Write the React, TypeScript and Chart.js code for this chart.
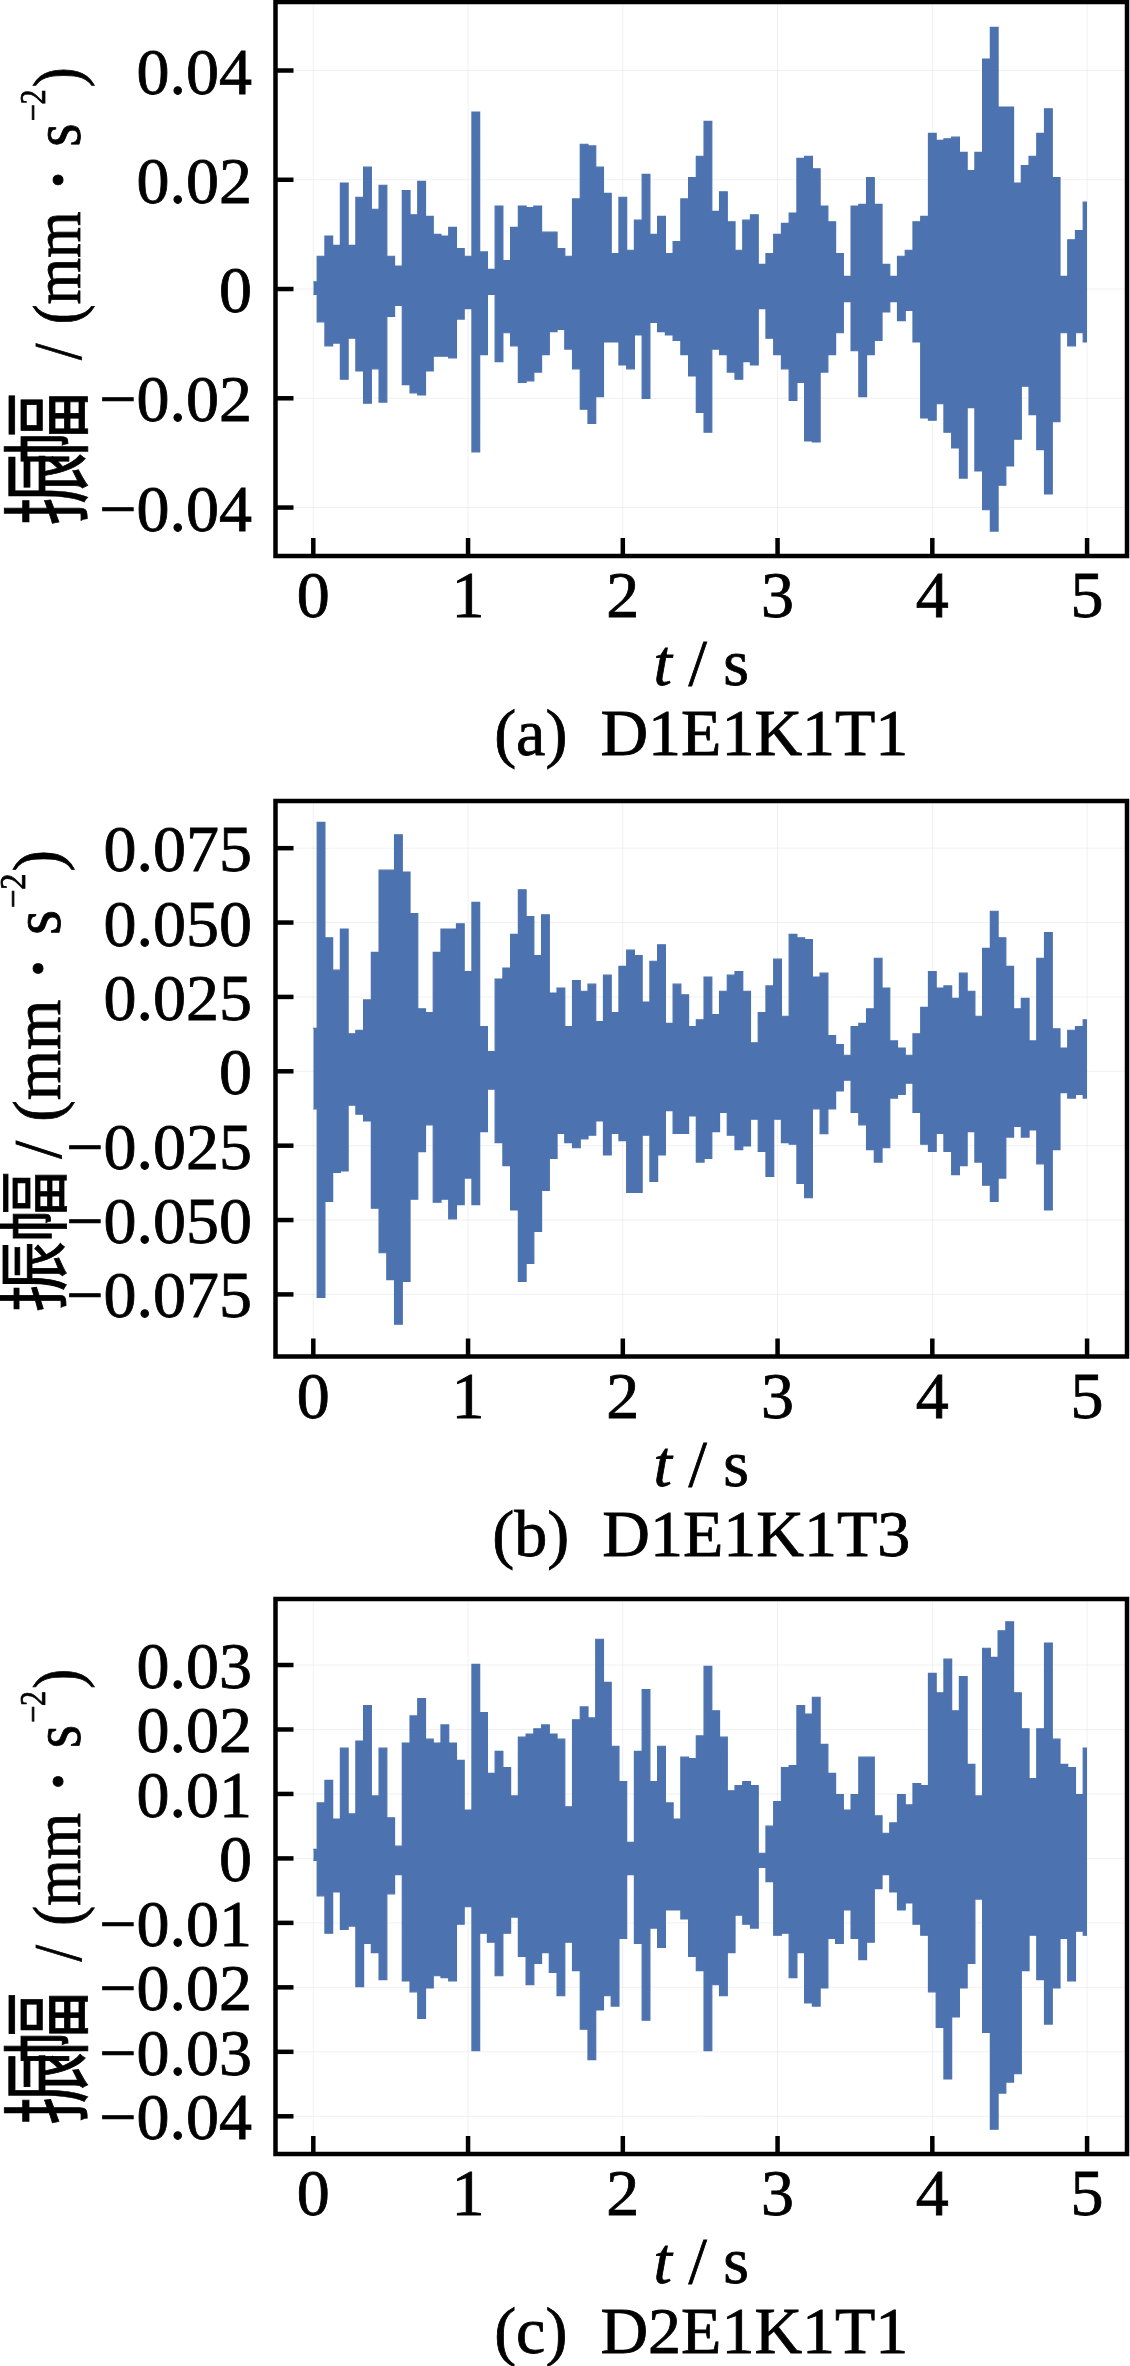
import React, { useEffect, useRef } from "react";
import { Chart, registerables } from "chart.js";

Chart.register(...registerables);

// ---------- data ----------
const timeBins = [
  0.0, 0.05, 0.1, 0.15, 0.2, 0.25, 0.3, 0.35, 0.4, 0.45,
  0.5, 0.55, 0.6, 0.65, 0.7, 0.75, 0.8, 0.85, 0.9, 0.95,
  1.0, 1.05, 1.1, 1.15, 1.2, 1.25, 1.3, 1.35, 1.4, 1.45,
  1.5, 1.55, 1.6, 1.65, 1.7, 1.75, 1.8, 1.85, 1.9, 1.95,
  2.0, 2.05, 2.1, 2.15, 2.2, 2.25, 2.3, 2.35, 2.4, 2.45,
  2.5, 2.55, 2.6, 2.65, 2.7, 2.75, 2.8, 2.85, 2.9, 2.95,
  3.0, 3.05, 3.1, 3.15, 3.2, 3.25, 3.3, 3.35, 3.4, 3.45,
  3.5, 3.55, 3.6, 3.65, 3.7, 3.75, 3.8, 3.85, 3.9, 3.95,
  4.0, 4.05, 4.1, 4.15, 4.2, 4.25, 4.3, 4.35, 4.4, 4.45,
  4.5, 4.55, 4.6, 4.65, 4.7, 4.75, 4.8, 4.85, 4.9, 4.95, 5.0,
];

const peakHighA = [
  0.0013, 0.006, 0.0097, 0.008, 0.0194, 0.008, 0.0168, 0.0223, 0.0146, 0.019,
  0.006, 0.0042, 0.018, 0.0136, 0.0197, 0.0133, 0.01, 0.0097, 0.0113, 0.0074,
  0.006, 0.0324, 0.0068, 0.0036, 0.0152, 0.0052, 0.0113, 0.0152, 0.0149, 0.0152,
  0.0104, 0.0104, 0.0074, 0.006, 0.0165, 0.0265, 0.0262, 0.0223, 0.0175, 0.0065,
  0.0168, 0.0071, 0.0126, 0.021, 0.01, 0.0133, 0.0065, 0.0087, 0.0165, 0.0204,
  0.0243, 0.0307, 0.0142, 0.0178, 0.0123, 0.0071, 0.0126, 0.0136, 0.0045, 0.0065,
  0.01, 0.012, 0.0139, 0.0239, 0.0243, 0.022, 0.0152, 0.0123, 0.0065, 0.0023,
  0.0152, 0.0155, 0.0204, 0.0155, 0.0045, 0.0023, 0.006, 0.0071, 0.0123, 0.0133,
  0.0285, 0.0272, 0.0275, 0.0278, 0.025, 0.0217, 0.025, 0.0421, 0.0479, 0.0333,
  0.0333, 0.0194, 0.0226, 0.0243, 0.0285, 0.033, 0.0204, 0.0023, 0.009, 0.0107, 0.0159,
];
const peakLowA = [
  -0.001, -0.006, -0.0104, -0.0099, -0.0165, -0.009, -0.015, -0.0209, -0.0146, -0.0207,
  -0.005, -0.003, -0.0175, -0.019, -0.0194, -0.015, -0.0123, -0.0123, -0.0126, -0.0055,
  -0.0036, -0.0298, -0.012, -0.001, -0.0133, -0.008, -0.0104, -0.0171, -0.0168, -0.0152,
  -0.012, -0.0078, -0.0074, -0.011, -0.0146, -0.022, -0.0246, -0.0197, -0.0097, -0.0097,
  -0.0139, -0.0146, -0.0084, -0.02, -0.0061, -0.0078, -0.0084, -0.0094, -0.012, -0.0159,
  -0.0226, -0.0262, -0.011, -0.012, -0.0152, -0.0165, -0.0133, -0.0139, -0.0036, -0.009,
  -0.012, -0.0146, -0.0204, -0.0171, -0.0278, -0.028, -0.0152, -0.012, -0.008, -0.0023,
  -0.0113, -0.0197, -0.012, -0.0094, -0.0042, -0.0023, -0.0058, -0.0039, -0.0097, -0.0236,
  -0.024, -0.021, -0.0262, -0.0291, -0.0346, -0.0217, -0.0333, -0.0404, -0.0443, -0.0359,
  -0.0324, -0.0275, -0.0178, -0.023, -0.0294, -0.0375, -0.0243, -0.008, -0.0104, -0.008, -0.0097,
];

const peakHighB = [
  0.0144, 0.0837, 0.0449, 0.034, 0.0478, 0.0126, 0.0138, 0.024, 0.04, 0.0676,
  0.0676, 0.0795, 0.067, 0.053, 0.021, 0.0197, 0.04, 0.0478, 0.0478, 0.0496,
  0.0335, 0.0568, 0.015, 0.0066, 0.031, 0.0347, 0.046, 0.061, 0.052, 0.0389,
  0.0526, 0.0263, 0.028, 0.015, 0.0305, 0.0269, 0.0293, 0.0167, 0.0323, 0.0197,
  0.0353, 0.0407, 0.0389, 0.0233, 0.037, 0.0425, 0.0161, 0.0293, 0.0257, 0.015,
  0.0173, 0.0317, 0.0191, 0.0269, 0.0323, 0.0335, 0.0269, 0.0096, 0.0197, 0.0287,
  0.0377, 0.0185, 0.046, 0.0449, 0.0443, 0.0317, 0.033, 0.012, 0.009, 0.0054,
  0.015, 0.0161, 0.021, 0.038, 0.028, 0.0102, 0.0078, 0.0054, 0.0126, 0.0215,
  0.0335, 0.028, 0.0287, 0.0245, 0.033, 0.0269, 0.0185, 0.0413, 0.0538, 0.0449,
  0.0353, 0.021, 0.0245, 0.0102, 0.038, 0.0466, 0.0143, 0.0078, 0.0138, 0.015, 0.0173,
];
const peakLowB = [
  -0.0126, -0.076, -0.0437, -0.034, -0.0335, -0.0114, -0.0144, -0.0167, -0.046, -0.061,
  -0.07, -0.085, -0.0706, -0.043, -0.027, -0.018, -0.044, -0.043, -0.0496, -0.0448,
  -0.0359, -0.0448, -0.0203, -0.006, -0.024, -0.0317, -0.0466, -0.0706, -0.0646, -0.0538,
  -0.04, -0.0293, -0.0209, -0.024, -0.0257, -0.0227, -0.0215, -0.0167, -0.0281, -0.0209,
  -0.0233, -0.0407, -0.0407, -0.0215, -0.037, -0.0281, -0.0132, -0.0209, -0.0209, -0.015,
  -0.0305, -0.0293, -0.0203, -0.0138, -0.0215, -0.0263, -0.0251, -0.0161, -0.0269, -0.0353,
  -0.0161, -0.024, -0.0245, -0.0377, -0.0425, -0.0126, -0.021, -0.0126, -0.0066, -0.003,
  -0.0138, -0.018, -0.0263, -0.0305, -0.0257, -0.009, -0.0078, -0.004, -0.0138, -0.0245,
  -0.0269, -0.0209, -0.0269, -0.0347, -0.0317, -0.0203, -0.0305, -0.0383, -0.0437, -0.0359,
  -0.0221, -0.0185, -0.0221, -0.0197, -0.0311, -0.0466, -0.0263, -0.0072, -0.009, -0.0078, -0.009,
];

const peakHighC = [
  0.0014, 0.0086, 0.0121, 0.0061, 0.0171, 0.0069, 0.0182, 0.0237, 0.0097, 0.0171,
  0.0063, 0.0019, 0.0179, 0.0221, 0.0248, 0.0185, 0.0179, 0.0207, 0.0179, 0.0152,
  0.0075, 0.0301, 0.0226, 0.0132, 0.0166, 0.0141, 0.0097, 0.0188, 0.0193, 0.0201,
  0.0207, 0.0193, 0.0185, 0.008, 0.0215, 0.0235, 0.0218, 0.034, 0.0273, 0.0174,
  0.0119, 0.0025, 0.0166, 0.0262, 0.0119, 0.0174, 0.0086, 0.0061, 0.0157, 0.0155,
  0.019, 0.0298, 0.0229, 0.0188, 0.0105, 0.0113, 0.0119, 0.0113, 0.0008, 0.005,
  0.0088, 0.0141, 0.0144, 0.0237, 0.0224, 0.025, 0.0177, 0.0132, 0.0099, 0.0075,
  0.0099, 0.0157, 0.0157, 0.0066, 0.0039, 0.0055, 0.0099, 0.0083, 0.0116, 0.0113,
  0.0287, 0.0257, 0.0309, 0.0229, 0.0282, 0.0146, 0.0097, 0.0326, 0.0312, 0.0353,
  0.0367, 0.0257, 0.0201, 0.0124, 0.0201, 0.0334, 0.0185, 0.0146, 0.0141, 0.0099, 0.0171,
];
const peakLowC = [
  -0.0003, -0.0058, -0.0116, -0.0052, -0.011, -0.0105, -0.0199, -0.0132, -0.0146, -0.0188,
  -0.0055, -0.0025, -0.019, -0.0207, -0.0248, -0.0201, -0.0182, -0.0185, -0.019, -0.0102,
  -0.0075, -0.0298, -0.0116, -0.013, -0.0182, -0.0116, -0.0091, -0.0152, -0.0196, -0.0163,
  -0.0146, -0.0177, -0.0213, -0.013, -0.0174, -0.0265, -0.0312, -0.0235, -0.0213, -0.0229,
  -0.0124, -0.0025, -0.0132, -0.0251, -0.0108, -0.0138, -0.008, -0.008, -0.0094, -0.0152,
  -0.0174, -0.0298, -0.0196, -0.0213, -0.0146, -0.0088, -0.0102, -0.0108, -0.0014, -0.0036,
  -0.0119, -0.0116, -0.0185, -0.0146, -0.0224, -0.0229, -0.0201, -0.0124, -0.0132, -0.008,
  -0.0124, -0.0157, -0.013, -0.0047, -0.0025, -0.0052, -0.008, -0.0069, -0.0102, -0.0119,
  -0.0207, -0.0262, -0.0342, -0.0246, -0.0201, -0.0163, -0.0063, -0.027, -0.042, -0.0364,
  -0.0347, -0.0334, -0.0174, -0.0119, -0.0188, -0.0257, -0.0201, -0.0124, -0.019, -0.0113, -0.0119,
];

const xTicks = [0, 1, 2, 3, 4, 5];
const xTickLabels = ["0", "1", "2", "3", "4", "5"];

const yTicksA = [0.04, 0.02, 0, -0.02, -0.04];
const yTickLabelsA = ["0.04", "0.02", "0", "\u22120.02", "\u22120.04"];
const yTicksB = [0.075, 0.05, 0.025, 0, -0.025, -0.05, -0.075];
const yTickLabelsB = ["0.075", "0.050", "0.025", "0", "\u22120.025", "\u22120.050", "\u22120.075"];
const yTicksC = [0.03, 0.02, 0.01, 0, -0.01, -0.02, -0.03, -0.04];
const yTickLabelsC = ["0.03", "0.02", "0.01", "0", "\u22120.01", "\u22120.02", "\u22120.03", "\u22120.04"];

const captions = ["(a)  D1E1K1T1", "(b)  D1E1K1T3", "(c)  D2E1K1T1"];
const xTitleItalic = "t";
const xTitleRest = " / s";
const yTitleCJK = ["振", "幅"];

// ---------- drawing ----------
const SERIF = '"Liberation Serif", "Times New Roman", serif';
const CJK = '"Noto Sans CJK SC", "Noto Sans CJK JP", sans-serif';
const LINE_BLUE = "#4c72b0";

type TitleLayout = {
  baseX: number;
  cjkSize: number;
  cjkSx: number;
  cjkCenters: number[];
  latinStart: number;
  latinSx: number;
};

type PanelProps = {
  height: number;
  frameTop: number;
  frameBottom: number;
  yMin: number;
  yMax: number;
  high: number[];
  low: number[];
  yTicks: number[];
  yTickLabels: string[];
  caption: string;
  title: TitleLayout;
};

function fillBold(ctx: CanvasRenderingContext2D, text: string, x: number, y: number) {
  ctx.fillText(text, x, y);
  ctx.strokeText(text, x, y);
}

function drawYTitle(ctx: CanvasRenderingContext2D, centerY: number, L: TitleLayout) {
  ctx.save();
  ctx.translate(L.baseX, centerY);
  ctx.rotate(-Math.PI / 2);
  ctx.fillStyle = "#000";
  ctx.strokeStyle = "#000";
  ctx.lineWidth = 0.8;
  ctx.textBaseline = "alphabetic";
  ctx.textAlign = "center";
  yTitleCJK.forEach((ch, i) => {
    ctx.save();
    ctx.translate(-L.cjkCenters[i], 0);
    ctx.scale(L.cjkSx, 1);
    ctx.font = `${L.cjkSize}px ${CJK}`;
    fillBold(ctx, ch, 0, 0);
    ctx.restore();
  });
  ctx.textAlign = "left";
  const pieces = [
    { text: "/", font: `68px ${SERIF}`, sx: L.latinSx, gap: 0, lift: 0 },
    { text: "(mm", font: `68px ${SERIF}`, sx: L.latinSx, gap: 19, lift: 0 },
    { text: "\u2022", font: `42px ${SERIF}`, sx: 1, gap: 24, lift: 8 },
    { text: "s", font: `68px ${SERIF}`, sx: L.latinSx, gap: 26, lift: 0 },
    { text: "\u22122", font: `36px ${SERIF}`, sx: L.latinSx * 0.95, gap: 2, lift: 35 },
    { text: ")", font: `68px ${SERIF}`, sx: L.latinSx, gap: 2, lift: 0 },
  ];
  let pos = -L.latinStart;
  pieces.forEach((p) => {
    pos += p.gap;
    ctx.font = p.font;
    const w = ctx.measureText(p.text).width * p.sx;
    ctx.save();
    ctx.translate(pos, -p.lift);
    ctx.scale(p.sx, 1);
    fillBold(ctx, p.text, 0, 0);
    ctx.restore();
    pos += w;
  });
  ctx.restore();
}

function makeDecorPlugin(p: PanelProps) {
  return {
    id: "panelDecor",
    beforeDatasetsDraw(chart: any) {
      const { ctx, chartArea: a, scales } = chart;
      ctx.save();
      ctx.strokeStyle = "rgba(0,0,0,0.06)";
      ctx.lineWidth = 1;
      xTicks.forEach((v) => {
        const x = scales.x.getPixelForValue(v);
        ctx.beginPath();
        ctx.moveTo(x, a.top);
        ctx.lineTo(x, a.bottom);
        ctx.stroke();
      });
      p.yTicks.forEach((v) => {
        const y = scales.y.getPixelForValue(v);
        ctx.beginPath();
        ctx.moveTo(a.left, y);
        ctx.lineTo(a.right, y);
        ctx.stroke();
      });
      ctx.restore();
    },
    afterDatasetsDraw(chart: any) {
      const { ctx, chartArea: a, scales } = chart;
      ctx.save();
      ctx.strokeStyle = "#000";
      ctx.lineWidth = 4.5;
      ctx.strokeRect(a.left, a.top, a.right - a.left, a.bottom - a.top);
      xTicks.forEach((v) => {
        const x = scales.x.getPixelForValue(v);
        ctx.beginPath();
        ctx.moveTo(x, a.bottom);
        ctx.lineTo(x, a.bottom - 18);
        ctx.stroke();
      });
      p.yTicks.forEach((v) => {
        const y = scales.y.getPixelForValue(v);
        ctx.beginPath();
        ctx.moveTo(a.left, y);
        ctx.lineTo(a.left + 18, y);
        ctx.stroke();
      });
      ctx.restore();
    },
    afterDraw(chart: any) {
      const { ctx, chartArea: a, scales } = chart;
      ctx.save();
      ctx.fillStyle = "#000";
      ctx.strokeStyle = "#000";
      ctx.lineWidth = 0.8;
      ctx.textBaseline = "alphabetic";
      ctx.font = `66px ${SERIF}`;
      ctx.textAlign = "right";
      p.yTicks.forEach((v, i) => {
        const y = scales.y.getPixelForValue(v);
        fillBold(ctx, p.yTickLabels[i], 252, y + 23);
      });
      ctx.textAlign = "center";
      xTicks.forEach((v, i) => {
        const x = scales.x.getPixelForValue(v);
        fillBold(ctx, xTickLabels[i], x, a.bottom + 61);
      });
      const cx = (a.left + a.right) / 2;
      ctx.textAlign = "left";
      ctx.font = `italic 66px ${SERIF}`;
      const wT = ctx.measureText(xTitleItalic).width;
      ctx.font = `66px ${SERIF}`;
      const wR = ctx.measureText(xTitleRest).width;
      const sx = cx - (wT + wR) / 2;
      ctx.font = `italic 66px ${SERIF}`;
      fillBold(ctx, xTitleItalic, sx, a.bottom + 129);
      ctx.font = `66px ${SERIF}`;
      fillBold(ctx, xTitleRest, sx + wT, a.bottom + 129);
      ctx.textAlign = "center";
      fillBold(ctx, p.caption, cx, a.bottom + 199);
      ctx.restore();
      drawYTitle(ctx, (a.top + a.bottom) / 2, p.title);
    },
  };
}

function Panel(p: PanelProps) {
  const ref = useRef<HTMLCanvasElement | null>(null);
  useEffect(() => {
    const canvas = ref.current;
    if (!canvas) return;
    const upper = timeBins.map((t, i) => ({ x: t, y: p.high[i] }));
    const lower = timeBins.map((t, i) => ({ x: t, y: p.low[i] }));
    const chart = new Chart(canvas, {
      type: "line",
      data: {
        datasets: [
          {
            data: upper,
            borderColor: LINE_BLUE,
            backgroundColor: LINE_BLUE,
            borderWidth: 1.2,
            pointRadius: 0,
            stepped: "middle",
            fill: "+1",
          },
          {
            data: lower,
            borderColor: LINE_BLUE,
            backgroundColor: LINE_BLUE,
            borderWidth: 1.2,
            pointRadius: 0,
            stepped: "middle",
            fill: false,
          },
        ],
      },
      options: {
        animation: false,
        responsive: false,
        maintainAspectRatio: false,
        events: [],
        layout: {
          padding: {
            left: 275.5,
            right: 3,
            top: p.frameTop,
            bottom: p.height - p.frameBottom,
          },
        },
        plugins: {
          legend: { display: false },
          tooltip: { enabled: false },
          title: { display: false },
        },
        scales: {
          x: { type: "linear", display: false, min: -0.2443, max: 5.258 },
          y: { type: "linear", display: false, min: p.yMin, max: p.yMax },
        },
      },
      plugins: [makeDecorPlugin(p)],
    } as any);
    return () => chart.destroy();
  }, []);
  return (
    <canvas
      ref={ref}
      width={1130}
      height={p.height}
      style={{ display: "block", width: 1130, height: p.height }}
    />
  );
}

export default function App() {
  useEffect(() => {
    document.body.style.margin = "0";
    document.body.style.background = "#fff";
  }, []);
  return (
    <div style={{ width: 1130, height: 2366, background: "#fff", overflow: "hidden" }}>
      <Panel
        height={790}
        frameTop={2}
        frameBottom={556}
        yMin={-0.04887}
        yMax={0.05254}
        high={peakHighA}
        low={peakLowA}
        yTicks={yTicksA}
        yTickLabels={yTickLabelsA}
        caption={captions[0]}
        title={{ baseX: 80, cjkSize: 90, cjkSx: 0.82, cjkCenters: [210, 150], latinStart: 81, latinSx: 0.88 }}
      />
      <Panel
        height={790}
        frameTop={11}
        frameBottom={566.5}
        yMin={-0.09587}
        yMax={0.09086}
        high={peakHighB}
        low={peakLowB}
        yTicks={yTicksB}
        yTickLabels={yTickLabelsB}
        caption={captions[1]}
        title={{ baseX: 60, cjkSize: 72, cjkSx: 1.0, cjkCenters: [198, 128], latinStart: 80, latinSx: 0.95 }}
      />
      <Panel
        height={786}
        frameTop={19}
        frameBottom={574}
        yMin={-0.04585}
        yMax={0.04024}
        high={peakHighC}
        low={peakLowC}
        yTicks={yTicksC}
        yTickLabels={yTickLabelsC}
        caption={captions[2]}
        title={{ baseX: 80, cjkSize: 90, cjkSx: 0.82, cjkCenters: [212, 152], latinStart: 85, latinSx: 0.88 }}
      />
    </div>
  );
}
